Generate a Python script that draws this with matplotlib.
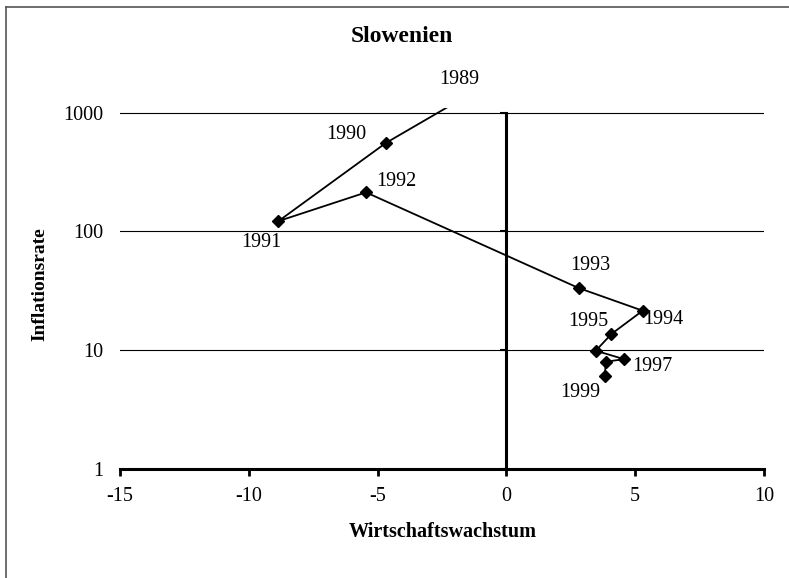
import numpy as np
import matplotlib
matplotlib.use("Agg")
import matplotlib.pyplot as plt
from matplotlib.ticker import NullLocator
from matplotlib.lines import Line2D

plt.rcParams['font.family'] = ['Liberation Serif', 'DejaVu Serif']

# Wirtschaftswachstum (x) vs Inflationsrate (y, log), Slowenien 1989-1999
jahre = [1989, 1990, 1991, 1992, 1993, 1994, 1995, 1996, 1997, 1998, 1999]
wachstum = [-1.8, -4.68, -8.85, -5.45, 2.80, 5.29, 4.08, 3.47, 4.57, 3.86, 3.82]
inflation = [1280, 555, 122, 213, 33.4, 21.5, 13.7, 9.9, 8.4, 8.0, 6.1]

# label offsets in pixels (only some years are labelled)
beschriftung = {1989: (-1, 20), 1990: (-40, 8), 1991: (-17, -21), 1992: (30, 11),
                1993: (12, 22), 1994: (21, -9), 1995: (-23, 12), 1997: (28, -7),
                1999: (-25, -17)}

x_ticks = [-15, -10, -5, 0, 5, 10]
x_labels = ["-15", "-10", "-5", "0", "5", "10"]
y_ticks = [1, 10, 100, 1000]
y_labels = ["1", "10", "100", "1000"]

fig = plt.figure(figsize=(7.89, 5.78), dpi=100)
ax = fig.add_axes([0.1521, 0.1886, 0.8162, 0.6251])

ax.plot(wachstum, inflation, color='black', lw=1.3, marker='D', ms=6.3, zorder=3)

for j, x, y in zip(jahre, wachstum, inflation):
    if j in beschriftung:
        ax.annotate(str(j), (x, y), xytext=beschriftung[j], textcoords='offset pixels',
                    ha='center', va='center', fontsize=14.5, annotation_clip=False)

ax.set_yscale('log')
ax.set_xlim(-15, 10)
ax.set_ylim(1, 1100)
ax.yaxis.set_minor_locator(NullLocator())
ax.set_yticks(y_ticks)
ax.set_yticklabels([])
ax.set_xticks(x_ticks)
ax.set_xticklabels(x_labels, fontsize=14.5)

ax.grid(axis='y', which='major', color='black', lw=0.8)
ax.set_axisbelow(True)

for s in ['top', 'right']:
    ax.spines[s].set_visible(False)
ax.spines['bottom'].set_linewidth(2.2)
ax.spines['left'].set_position(('data', 0))
ax.spines['left'].set_bounds(1, 1000)
ax.spines['left'].set_linewidth(2.2)
ax.tick_params(axis='x', direction='out', length=5, width=2, pad=8)
ax.tick_params(axis='y', direction='out', length=4, width=1.5)

# tick labels of the y axis sit at the left edge of the plot
sec = ax.secondary_yaxis('left')
sec.yaxis.set_minor_locator(NullLocator())
sec.set_yticks(y_ticks)
sec.set_yticklabels(y_labels, fontsize=14.5)
sec.tick_params(axis='y', length=0, pad=12)
sec.spines['left'].set_visible(False)

fig.text(402 / 789, 1 - 36 / 578, "Slowenien", ha='center', va='center',
         fontsize=17, fontweight='bold')
fig.text(443 / 789, 1 - 532 / 578, "Wirtschaftswachstum", ha='center', va='center',
         fontsize=14.5, fontweight='bold')
fig.text(40 / 789, 1 - 284 / 578, "Inflationsrate", ha='center', va='center',
         fontsize=14, fontweight='bold', rotation=90)

# frame of the scanned figure (left and top edges)
fig.add_artist(Line2D([6 / 789, 6 / 789], [0, 1 - 7 / 578], transform=fig.transFigure,
                      color='#555555', lw=1.2))
fig.add_artist(Line2D([6 / 789, 1], [1 - 7 / 578, 1 - 7 / 578], transform=fig.transFigure,
                      color='#555555', lw=1.2))

fig.savefig("out.png", dpi=100)
